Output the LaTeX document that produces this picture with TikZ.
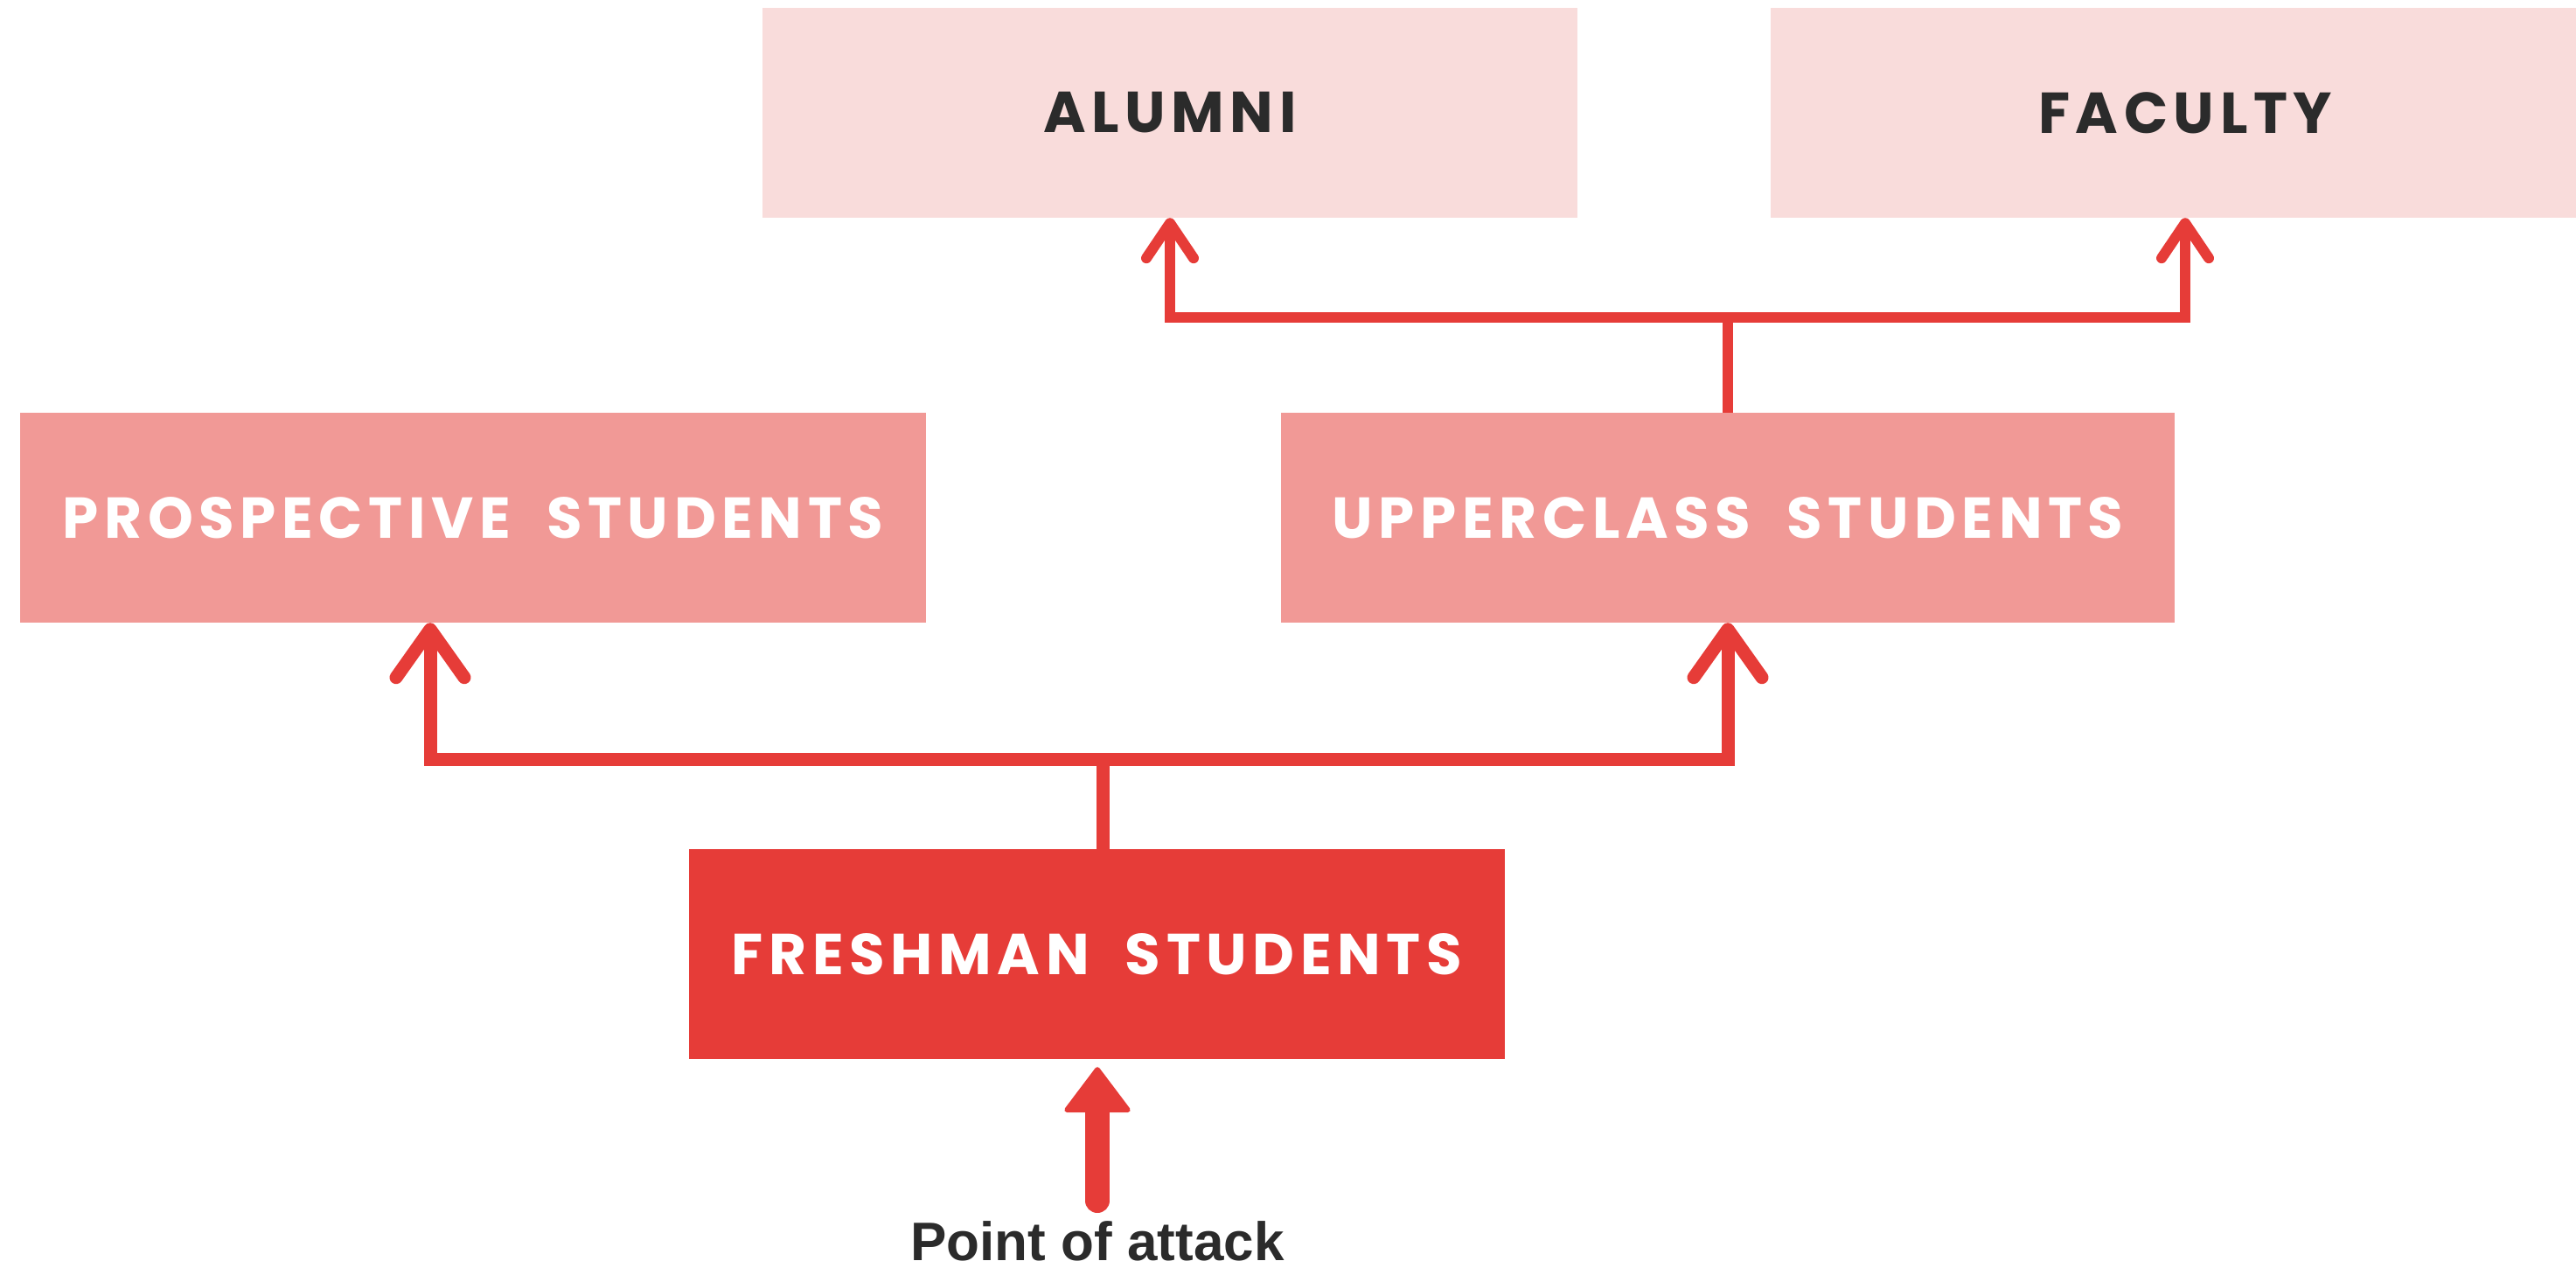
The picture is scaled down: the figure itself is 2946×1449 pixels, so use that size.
\documentclass[tikz,border=0pt]{standalone}
\usepackage{fontspec}
\usetikzlibrary{arrows.meta}
\newfontfamily\labelfont{Poppins}[LetterSpace=10, WordSpace=2]
\newfontfamily\captionfont{Liberation Sans}
\definecolor{deepred}{HTML}{E63C38}
\definecolor{midpink}{HTML}{F19996}
\definecolor{palepink}{HTML}{F9DCDB}
\definecolor{inkgray}{HTML}{2B2B2B}
\tikzset{
  box/.style={rectangle, inner sep=0pt, minimum height=240pt,
    font=\labelfont\bfseries\fontsize{66}{66}\selectfont},
  toprow/.style={box, fill=palepink, text=inkgray, minimum width=932pt},
  midrow/.style={box, fill=midpink, text=white},
  startbox/.style={box, fill=deepred, text=white, minimum width=933pt},
  bigbarb/.tip={Straight Barb[length=55pt, width=78pt, round]},
  smallbarb/.tip={Straight Barb[length=40pt, width=54pt, round]},
  lowlink/.style={draw=deepred, line width=15pt, line join=miter},
  highlink/.style={draw=deepred, line width=12pt, line join=miter},
}
\begin{document}
\begin{tikzpicture}[x=1pt, y=-1pt]
  \useasboundingbox (0,0) rectangle (2946,1449);
  \begin{scope}
    \clip (0,0) rectangle (2946,1449);
    % top row
    \node[toprow] (alumni) at (1338,129) {ALUMNI};
    \node[toprow, minimum width=948pt] (faculty) at (2499,129) {FACULTY};
    % middle row
    \node[midrow, minimum width=1036pt] (pros) at (541,592) {PROSPECTIVE STUDENTS};
    \node[midrow, minimum width=1022pt] (upper) at (1976,592) {UPPERCLASS STUDENTS};
    % entry box
    \node[startbox] (fresh) at (1254.5,1091) {FRESHMAN STUDENTS};
  \end{scope}

  % freshman -> prospective / upperclass
  \draw[lowlink] ([xshift=6.5pt]fresh.north) -- ++(0,-103);
  \draw[lowlink, bigbarb-bigbarb]
    ([xshift=-49pt]pros.south) -- ++(0,156) -| (upper.south);

  % upperclass -> alumni / faculty
  \draw[highlink] (upper.north) -- ++(0,-109);
  \draw[highlink, smallbarb-smallbarb]
    (alumni.south) -- ++(0,114) -| (faculty.south);

  % point of attack
  \node[font=\captionfont\bfseries\fontsize{62}{62}\selectfont, text=inkgray,
        anchor=base, inner sep=0pt] (poa) at (1255,1441) {Point of attack};
  \coordinate (atk) at (1255,1373);
  \draw[deepred, line width=28pt, line cap=round, shorten >=9pt,
        -{Triangle[length=54pt, width=80pt, round, line width=6pt]}]
    (atk) -- (fresh.south -| atk);
\end{tikzpicture}
\end{document}
